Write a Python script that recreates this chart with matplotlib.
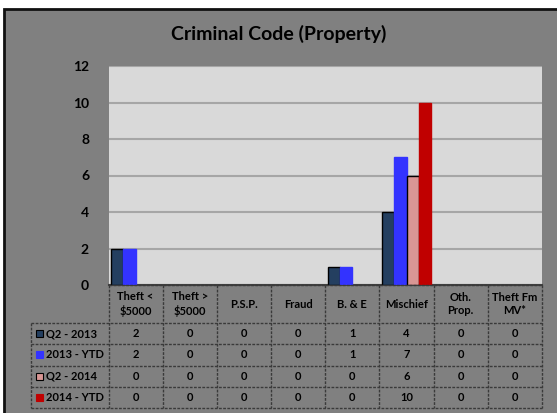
import matplotlib.pyplot as plt
from matplotlib.patches import Rectangle
from matplotlib.lines import Line2D
import numpy as np

# Data
categories = ["Theft <\n$5000", "Theft >\n$5000", "P.S.P.", "Fraud", "B. & E",
              "Mischief", "Oth.\nProp.", "Theft Fm\nMV*"]
series_names = ["Q2 - 2013", "2013 - YTD", "Q2 - 2014", "2014 - YTD"]
q2_2013 = [2, 0, 0, 0, 1, 4, 0, 0]
ytd_2013 = [2, 0, 0, 0, 1, 7, 0, 0]
q2_2014 = [0, 0, 0, 0, 0, 6, 0, 0]
ytd_2014 = [0, 0, 0, 0, 0, 10, 0, 0]
yticks = [0, 2, 4, 6, 8, 10, 12]

series = [q2_2013, ytd_2013, q2_2014, ytd_2014]
colors = ["#243F60", "#3333FF", "#D99694", "#C00000"]
edges = ["black", "#3333FF", "black", "#C00000"]

plt.rcParams['font.family'] = ['Lato', 'DejaVu Sans']

W, H = 557, 413
fig = plt.figure(figsize=(W / 100, H / 100), dpi=100)
fig.patch.set_facecolor("white")


def fx(px):
    return px / W


def fy(py):
    return 1 - py / H


# outer chart frame
fig.patches.append(Rectangle((fx(4), -0.05), 1.1, fy(8.5) + 0.05,
                             transform=fig.transFigure, facecolor="#808080",
                             edgecolor="#111111", linewidth=2, zorder=-10))

L, R, T, B = 108.5, 542, 66, 285
ax = fig.add_axes([fx(L), fy(B), (R - L) / W, (B - T) / H])
ax.set_facecolor("#D9D9D9")
for s in ["left", "right", "top"]:
    ax.spines[s].set_visible(False)
ax.spines["bottom"].set_color("#404040")
ax.spines["bottom"].set_linewidth(1.5)

n = len(categories)
x = np.arange(n)
bw = 0.225
for i, (vals, c, e) in enumerate(zip(series, colors, edges)):
    lw = [1 if v > 0 else 0 for v in vals]
    ax.bar(x + (i - 1.5) * bw, vals, width=bw, color=c, edgecolor=e,
           linewidth=lw, zorder=3, label=series_names[i])

ax.set_xlim(-0.5, n - 0.5)
ax.set_ylim(0, 12)
ax.set_yticks(yticks)
ax.set_yticklabels([str(v) for v in yticks], fontsize=10, fontweight="bold")
ax.tick_params(axis="y", length=0, pad=14)
ax.set_xticks([])
ax.yaxis.grid(True, color="#A6A6A6", linewidth=1.5, zorder=1)
ax.set_axisbelow(True)

fig.text(fx(279), fy(34), "Criminal Code (Property)", ha="center", va="center",
         fontsize=14, fontweight="bold", color="black")

# data table (drawn under the axes)
lab_left = 31
colw = (R - L) / n
row_y = [B, 323, 344.25, 365.5, 386.75, 408]
line_kw = dict(color="#3a3a3a", linewidth=1, linestyle=(0, (2, 1)),
               transform=fig.transFigure)

# horizontal lines
fig.add_artist(Line2D([fx(L), fx(R)], [fy(row_y[0])] * 2, **line_kw))
for yy in row_y[1:]:
    fig.add_artist(Line2D([fx(lab_left), fx(R)], [fy(yy)] * 2, **line_kw))
# vertical lines
fig.add_artist(Line2D([fx(lab_left)] * 2, [fy(row_y[1]), fy(row_y[-1])], **line_kw))
for j in range(n + 1):
    xx = L + j * colw
    fig.add_artist(Line2D([fx(xx)] * 2, [fy(row_y[0]), fy(row_y[-1])], **line_kw))

txt_kw = dict(fontsize=8, fontweight="bold", color="black", va="center")
for j, cat in enumerate(categories):
    fig.text(fx(L + (j + 0.5) * colw), fy((row_y[0] + row_y[1]) / 2), cat,
             ha="center", linespacing=1.25, **txt_kw)

for i, (vals, c, e) in enumerate(zip(series, colors, edges)):
    yc = (row_y[i + 1] + row_y[i + 2]) / 2
    fig.patches.append(Rectangle((fx(36), fy(yc + 3.5)), 6.5 / W, 7 / H,
                                 transform=fig.transFigure, facecolor=c,
                                 edgecolor=e, linewidth=0.8, zorder=10))
    fig.text(fx(46), fy(yc), series_names[i], ha="left", **txt_kw)
    for j, v in enumerate(vals):
        fig.text(fx(L + (j + 0.5) * colw), fy(yc), str(v), ha="center", **txt_kw)

fig.savefig("out.png", dpi=100, facecolor=fig.get_facecolor())
